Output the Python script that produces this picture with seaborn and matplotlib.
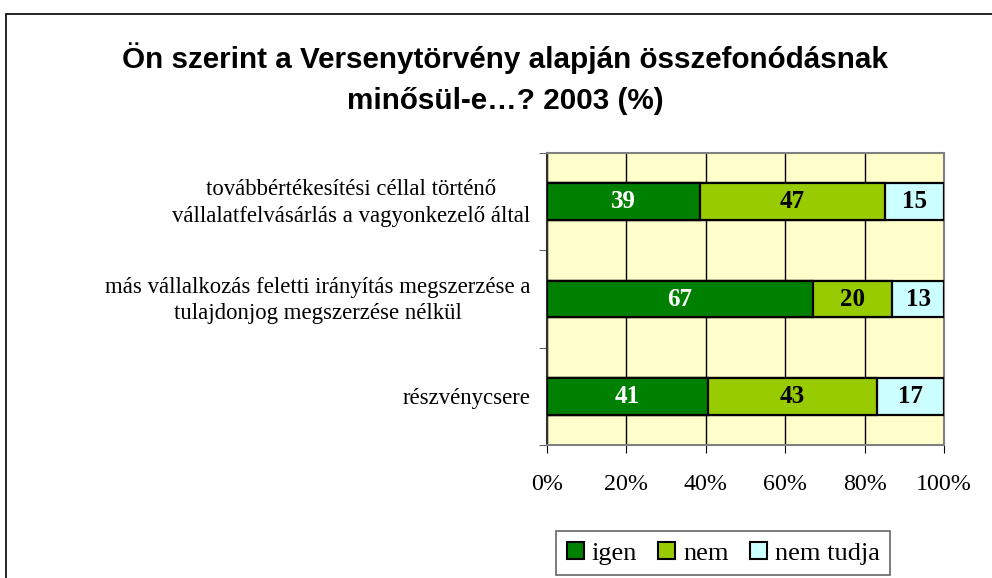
import numpy as np
import pandas as pd
import matplotlib.pyplot as plt
import seaborn as sns
from matplotlib.patches import Patch, Rectangle
from matplotlib.transforms import ScaledTranslation

# data
categories = [
    "továbbértékesítési céllal történő\nvállalatfelvásárlás a vagyonkezelő által",
    "más vállalkozás feletti irányítás megszerzése a\ntulajdonjog megszerzése nélkül",
    "részvénycsere",
]
series = ["igen", "nem", "nem tudja"]
igen = [39, 67, 41]
nem = [47, 20, 43]
nem_tudja = [15, 13, 17]
colors = ["#008000", "#99CC00", "#CCFFFF"]
text_colors = ["white", "black", "black"]

raw = np.array([igen, nem, nem_tudja], dtype=float)
pct = raw / raw.sum(axis=0) * 100
cum = np.cumsum(pct, axis=0)

sns.set_style("white")
plt.rcParams["font.family"] = ["Liberation Serif", "DejaVu Serif"]
plt.rcParams["text.color"] = "black"
plt.rcParams["xtick.color"] = "black"
plt.rcParams["ytick.color"] = "black"

fig = plt.figure(figsize=(9.92, 5.78), dpi=100)
ax = fig.add_axes([547 / 992, 1 - 445 / 578, 397 / 992, 292 / 578])
ax.set_facecolor("#FFFFCC")

# stacked bars: draw cumulative layers from the back
for i in reversed(range(len(series))):
    df = pd.DataFrame({"cat": categories, "val": cum[i]})
    sns.barplot(data=df, x="val", y="cat", orient="h", color=colors[i],
                saturation=1, width=0.38, edgecolor="black", linewidth=1.6,
                ax=ax, zorder=3)

for i in range(len(series)):
    start = cum[i] - pct[i]
    for j in range(len(categories)):
        ax.text(start[j] + pct[i][j] / 2, j, str(int(raw[i][j])),
                ha="center", va="center", fontsize=18, fontweight="bold",
                color=text_colors[i], zorder=5)

ax.set_xlim(0, 100)
ax.set_ylim(2.5, -0.5)
ax.set_xticks([0, 20, 40, 60, 80, 100])
ax.set_xticklabels(["0%", "20%", "40%", "60%", "80%", "100%"])
ax.xaxis.grid(True, color="black", linewidth=1)
ax.set_axisbelow(True)
ax.set_xlabel("")
ax.set_ylabel("")

ax.set_yticks(range(len(categories)))
ax.set_yticklabels(categories, multialignment="center", linespacing=1.35)
ax.set_yticks([-0.5, 0.5, 1.5, 2.5], minor=True)
ax.tick_params(axis="y", which="major", length=0, pad=12, labelsize=16.4)
ax.tick_params(axis="y", which="minor", length=6, color="#404040", direction="out")
ax.tick_params(axis="x", length=6, color="black", direction="out", pad=15, labelsize=17.3)
ax.xaxis.set_ticks_position("bottom")
ax.yaxis.set_ticks_position("left")

# two-line labels sit a little above the bar centre
for lbl in ax.get_yticklabels():
    if "\n" in lbl.get_text():
        lbl.set_transform(lbl.get_transform() + ScaledTranslation(0, 4 / 100, fig.dpi_scale_trans))

for side in ["top", "right", "bottom"]:
    ax.spines[side].set_color("#808080")
    ax.spines[side].set_linewidth(1.5)
ax.spines["left"].set_color("#303030")
ax.spines["left"].set_linewidth(1.5)

fig.text(0.509, 0.864, "Ön szerint a Versenytörvény alapján összefonódásnak\nminősül-e…? 2003 (%)",
         ha="center", va="center", fontsize=21.3, fontweight="bold", color="black",
         family=["Liberation Sans", "DejaVu Sans"], linespacing=1.6)

handles = [Patch(facecolor=c, edgecolor="black", linewidth=1.5) for c in colors]
leg = fig.legend(handles, series, loc="lower center", bbox_to_anchor=(0.729, 0.0),
                 ncol=3, frameon=True, fancybox=False, fontsize=19,
                 handlelength=0.65, handleheight=0.65, handletextpad=0.3,
                 columnspacing=0.8, borderpad=0.4, borderaxespad=0.1)
leg.get_frame().set_edgecolor("#404040")
leg.get_frame().set_linewidth(1.2)

# outer chart border
fig.patches.append(Rectangle((6 / 992, -0.01), 1.0, 1 - 14 / 578 + 0.01,
                             transform=fig.transFigure, fill=False,
                             edgecolor="black", linewidth=1.2))

fig.savefig("out.png", dpi=100)
